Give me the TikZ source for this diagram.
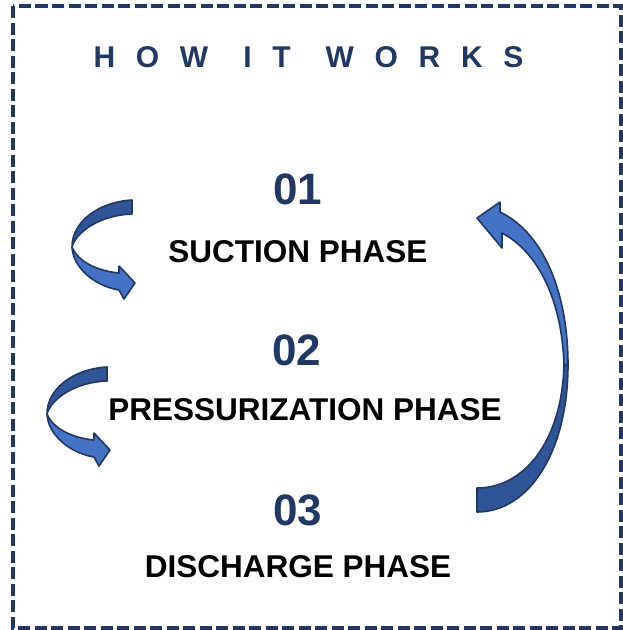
\documentclass[tikz,border=0pt]{standalone}
\usepackage{fontspec}
\setmainfont{Liberation Sans}
\usepackage{xcolor}
\definecolor{navy}{HTML}{1F3864}
\definecolor{ribbonlight}{HTML}{4472C4}
\definecolor{ribbondark}{HTML}{2F5597}

\begin{document}
\begin{tikzpicture}[x=1pt, y=-1pt,
    numtext/.style={anchor=base, inner sep=0pt, text=navy, font=\fontsize{44}{48}\selectfont\bfseries},
    phasetext/.style={anchor=base, inner sep=0pt, font=\fontsize{31.5}{36}\selectfont\bfseries},
    ribbon/.style={draw=navy, line width=1.6pt, line join=round}]
    \useasboundingbox (0,0) rectangle (623,630);
    \draw [navy, line width=3.2pt, dash pattern=on 12pt off 4.5pt] (13,6) rectangle (621,628);
    \node (title) at (308.5,67) [anchor=base, inner sep=0pt, text=navy] {\fontsize{30}{34}\selectfont\bfseries\addfontfeature{LetterSpace=69}HOW\hspace{6pt} IT\hspace{6pt} WORKS};
    \node (num1) at (298,204) [numtext] {01};
    \node (suction) at (298,262) [phasetext] {SUCTION PHASE};
    \node (num2) at (297,365) [numtext] {02};
    \node (pressure) at (305,420) [phasetext] {PRESSURIZATION PHASE};
    \node (num3) at (298,525) [numtext] {03};
    \node (discharge) at (298,577) [phasetext] {DISCHARGE PHASE};
    % small curls on the left
    \foreach \dx/\dy in {0/0, -25/167} {
        \begin{scope}[shift={(\dx,\dy)}]
            \draw [ribbon, fill=ribbonlight] (72,247) .. controls (73,268) and (95,286) .. (119,290) -- (124,299) -- (135,283) -- (119,266) -- (119,273) .. controls (98,271) and (78,262) .. (72,247) -- cycle;
            \draw [ribbon, fill=ribbondark] (132,200) .. controls (98,202) and (72,222) .. (72,247) .. controls (76,232) and (100,215) .. (132,214) -- cycle;
        \end{scope}
    }
    % big return arrow on the right
    \draw [ribbon, fill=ribbonlight] (568,365) .. controls (568,290) and (542,232) .. (500,212) -- (500,202) -- (477,218) -- (502,248) -- (502,233) .. controls (538,252) and (562,300) .. (564,365) -- cycle;
    \draw [ribbon, fill=ribbondark] (568,365) .. controls (568,450) and (530,512) .. (477,512) -- (477,488) .. controls (525,488) and (562,440) .. (564,365) -- cycle;
\end{tikzpicture}
\end{document}
